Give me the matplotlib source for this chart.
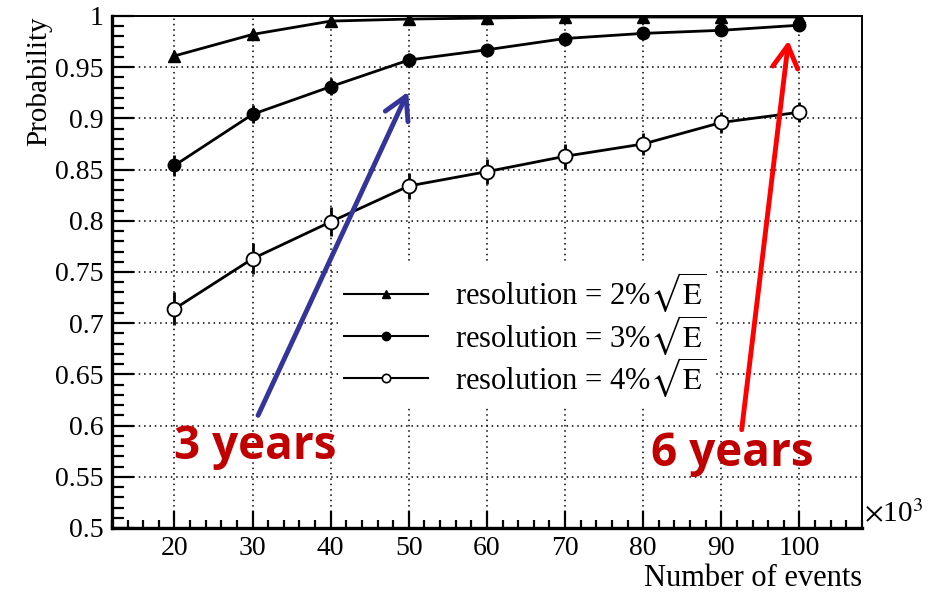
import matplotlib
matplotlib.use("Agg")
import matplotlib.pyplot as plt
from matplotlib.lines import Line2D
from matplotlib.ticker import MultipleLocator, FormatStrFormatter

plt.rcParams['font.family'] = ['Liberation Serif', 'DejaVu Serif']
plt.rcParams['mathtext.fontset'] = 'stix'

# number of events (x10^3)
events = [20, 30, 40, 50, 60, 70, 80, 90, 100]

# probabilities for each energy resolution
prob_2pct = [0.961, 0.982, 0.995, 0.997, 0.998, 0.999, 0.999, 0.999, 0.999]
prob_3pct = [0.854, 0.904, 0.931, 0.957, 0.967, 0.978, 0.983, 0.986, 0.991]
prob_4pct = [0.714, 0.763, 0.799, 0.834, 0.848, 0.863, 0.875, 0.896, 0.906]

err_2pct = [0.004, 0.003, 0.002, 0.001, 0.001, 0.001, 0.001, 0.001, 0.001]
err_3pct = [0.010, 0.009, 0.008, 0.007, 0.006, 0.005, 0.005, 0.004, 0.004]
err_4pct = [0.016, 0.015, 0.014, 0.013, 0.012, 0.012, 0.011, 0.010, 0.010]

labels = [r'resolution = 2%$\sqrt{\mathrm{E}}$',
          r'resolution = 3%$\sqrt{\mathrm{E}}$',
          r'resolution = 4%$\sqrt{\mathrm{E}}$']

# annotation arrows: (tail, head) in data coords, and the year labels
blue_arrow = ((30.7, 0.610), (49.9, 0.926))
red_arrow = ((92.6, 0.596), (98.6, 0.976))
text_3y = (30.4, 0.580)
text_6y = (91.4, 0.573)

fig = plt.figure(figsize=(9.34, 5.96), dpi=100)
ax = fig.add_axes([0.1199, 0.1141, 0.8030, 0.8591])

ax.errorbar(events, prob_2pct, yerr=err_2pct, color='black', lw=2, marker='^',
            ms=9, capsize=0, elinewidth=2, zorder=4)
ax.errorbar(events, prob_3pct, yerr=err_3pct, color='black', lw=2, marker='o',
            ms=9, capsize=0, elinewidth=2, zorder=4)
ax.errorbar(events, prob_4pct, yerr=err_4pct, color='black', lw=2, marker='o',
            ms=10, mfc='white', mew=1.3, capsize=0, elinewidth=2, zorder=4)

ax.set_xlim(12, 108)
ax.set_ylim(0.5, 1.0)
ax.xaxis.set_major_locator(MultipleLocator(10))
ax.xaxis.set_minor_locator(MultipleLocator(2))
ax.yaxis.set_major_locator(MultipleLocator(0.05))
ax.yaxis.set_minor_locator(MultipleLocator(0.01))
ax.yaxis.set_major_formatter(FormatStrFormatter('%g'))
ax.set_xticks([10 * k for k in range(2, 11)])

ax.grid(True, which='major', color='black', linestyle=(0, (1, 2.5)), lw=1.1)
ax.set_axisbelow(True)

ax.tick_params(which='both', direction='in', top=False, right=False,
               labelsize=20, width=1.6, pad=6)
ax.tick_params(axis='y', which='major', length=16)
ax.tick_params(axis='y', which='minor', length=8.5)
ax.tick_params(axis='x', which='major', length=12)
ax.tick_params(axis='x', which='minor', length=6)
ax.spines['left'].set_linewidth(2.4)
ax.spines['bottom'].set_linewidth(2.4)
ax.spines['top'].set_linewidth(1.4)
ax.spines['right'].set_linewidth(1.4)

ax.set_ylabel('Probability', fontsize=21, loc='top', labelpad=2)
ax.set_xlabel('Number of events', fontsize=22, loc='right', labelpad=2)
ax.text(1.003, 0.0, r'$\times$10$^3$', transform=ax.transAxes, fontsize=21,
        ha='left', va='bottom')

handles = [
    Line2D([], [], color='black', lw=1.5, marker='^', ms=6),
    Line2D([], [], color='black', lw=1.5, marker='o', ms=6),
    Line2D([], [], color='black', lw=1.5, marker='o', ms=6, mfc='white', mew=1.2),
]
leg = ax.legend(handles, labels, loc='upper left', bbox_to_anchor=(0.301, 0.515),
                borderaxespad=0, fontsize=22, frameon=True, facecolor='white',
                edgecolor='none', framealpha=1, fancybox=False, handlelength=2.75,
                handletextpad=0.9, labelspacing=-0.05, borderpad=0.2)
leg.set_zorder(5)

ax.annotate('', xy=blue_arrow[1], xytext=blue_arrow[0],
            arrowprops=dict(arrowstyle='->,head_length=0.8,head_width=0.45',
                            lw=3.5, color='#34349A', mutation_scale=20,
                            shrinkA=0, shrinkB=0), zorder=6, annotation_clip=False)
ax.annotate('', xy=red_arrow[1], xytext=red_arrow[0],
            arrowprops=dict(arrowstyle='->,head_length=0.8,head_width=0.45',
                            lw=3.5, color='#FF0000', mutation_scale=20,
                            shrinkA=0, shrinkB=0), zorder=6, annotation_clip=False)
ax.text(*text_3y, '3 years', color='#C00000', fontsize=33, fontweight='bold',
        family='Open Sans', ha='center', va='center', zorder=7)
ax.text(*text_6y, '6 years', color='#C00000', fontsize=33, fontweight='bold',
        family='Open Sans', ha='center', va='center', zorder=7)

fig.savefig('out.png', dpi=100)
